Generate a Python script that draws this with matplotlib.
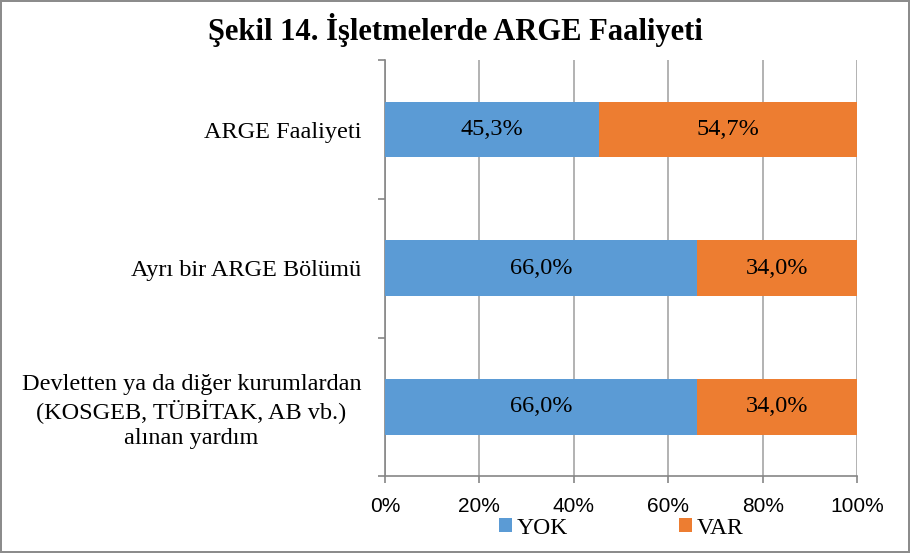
import numpy as np
import matplotlib.pyplot as plt
from matplotlib.ticker import FuncFormatter

# chart data
categories = [
    "ARGE Faaliyeti",
    "Ayrı bir ARGE Bölümü",
    "Devletten ya da diğer kurumlardan\n(KOSGEB, TÜBİTAK, AB vb.)\nalınan yardım",
]
yok = [45.3, 66.0, 66.0]
var = [54.7, 34.0, 34.0]
series_names = ["YOK", "VAR"]
title = "Şekil 14. İşletmelerde ARGE Faaliyeti"

blue = "#5B9BD5"
orange = "#ED7D31"
serif = ["Liberation Serif", "DejaVu Serif"]

fig = plt.figure(figsize=(9.1, 5.53), dpi=100)
fig.patch.set_edgecolor("#8c8c8c")
fig.patch.set_linewidth(1.5)
ax = fig.add_axes([0.423, 0.139, 0.519, 0.752])

y = np.arange(len(categories))
b1 = ax.barh(y, yok, height=0.4, color=blue, label=series_names[0], zorder=3)
b2 = ax.barh(y, var, left=yok, height=0.4, color=orange, label=series_names[1], zorder=3)

for bars, vals in [(b1, yok), (b2, var)]:
    for rect, v in zip(bars, vals):
        ax.text(rect.get_x() + rect.get_width() / 2, rect.get_y() + rect.get_height() / 2,
                f"{v:.1f}%".replace(".", ","), ha="center", va="center",
                fontsize=17.5, family=serif, zorder=4)

ax.set_xlim(0, 100)
ax.set_ylim(-0.5, len(categories) - 0.5)
ax.invert_yaxis()
ax.set_xticks(np.arange(0, 101, 20))
ax.xaxis.set_major_formatter(FuncFormatter(lambda v, p: f"{v:.0f}%"))
ax.grid(axis="x", color="#a6a6a6", linewidth=1.2, zorder=0)

ax.set_yticks(y)
ax.set_yticklabels(categories, fontsize=17.5, family=serif, linespacing=1.25)
for lab in ax.get_yticklabels():
    lab.set_multialignment("center")
ax.set_yticks(np.arange(-0.5, len(categories)), minor=True)
ax.tick_params(axis="y", which="major", length=0, pad=17)
ax.tick_params(axis="y", which="minor", length=5, color="#868686", width=1.2)
ax.tick_params(axis="x", length=5, color="#868686", width=1.2, labelsize=15, pad=10)
for lab in ax.get_xticklabels():
    lab.set_family(["Liberation Sans", "DejaVu Sans"])

for s in ["top", "right"]:
    ax.spines[s].set_visible(False)
ax.spines["left"].set_color("#868686")
ax.spines["bottom"].set_color("#868686")
ax.spines["left"].set_linewidth(1.2)
ax.spines["bottom"].set_linewidth(1.2)

fig.text(0.5, 0.945, title, ha="center", va="center", fontsize=22,
         fontweight="bold", family=serif)

ax.legend(loc="center", bbox_to_anchor=(0.5, -0.125), ncol=2, frameon=False,
          prop={"family": serif, "size": 17}, handlelength=0.55, handleheight=0.55,
          handletextpad=0.2, columnspacing=4.7, borderpad=0)

fig.savefig("out.png", dpi=100, edgecolor=fig.get_edgecolor())
